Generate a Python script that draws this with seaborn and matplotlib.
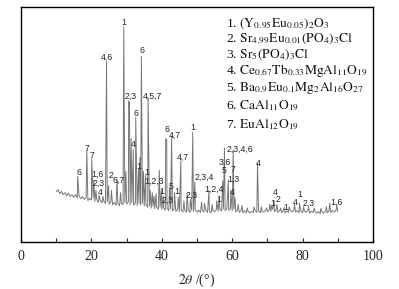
import numpy as np
import pandas as pd
import matplotlib
matplotlib.use('Agg')
import matplotlib.pyplot as plt
import seaborn as sns

# background (noise), every 0.5 deg from 10 to 90
bg_2theta = np.arange(10.0, 90.01, 0.5)
bg_intensity = [
    21.4, 22.3, 20.6, 21.5, 20.2, 21.0, 19.6, 20.8, 19.4, 20.1,
    19.0, 20.2, 18.7, 19.6, 18.4, 19.3, 18.1, 19.0, 17.6, 18.6,
    17.9, 18.8, 17.3, 18.2, 16.9, 17.8, 16.7, 17.5, 16.4, 17.2,
    16.1, 17.0, 15.8, 16.9, 15.6, 16.5, 15.4, 16.6, 15.9, 16.8,
    16.2, 17.1, 15.9, 16.8, 15.7, 16.6, 15.5, 16.4, 15.8, 16.5,
    15.2, 16.0, 14.8, 15.6, 14.4, 15.3, 14.2, 15.0, 13.9, 14.8,
    13.8, 14.7, 13.5, 14.4, 13.3, 14.2, 13.2, 14.1, 13.0, 13.9,
    12.9, 13.8, 12.7, 13.6, 12.8, 13.7, 12.6, 13.5, 12.9, 13.8,
    12.7, 13.6, 12.5, 13.4, 12.8, 13.7, 12.6, 13.3, 12.4, 13.5,
    12.9, 13.8, 13.1, 14.0, 13.2, 14.1, 13.4, 14.3, 13.5, 14.2,
    13.3, 14.0, 12.8, 13.6, 12.6, 13.4, 12.5, 13.3, 12.4, 13.2,
    12.3, 13.1, 12.5, 13.4, 12.6, 13.2, 12.4, 13.1, 12.7, 13.5,
    12.8, 13.7, 13.0, 13.9, 12.9, 13.6, 12.6, 13.4, 12.5, 13.3,
    12.4, 13.2, 12.6, 13.5, 12.8, 13.6, 12.7, 13.4, 12.5, 13.2,
    12.4, 13.3, 12.6, 13.5, 12.3, 13.1, 12.5, 13.2, 12.2, 13.0,
    12.1, 12.9, 12.3, 13.1, 12.4, 13.3, 12.6, 13.4, 12.7, 13.5,
    13.0,
]

# diffraction peaks: position (2theta) and top intensity
peak_2theta = [16.1, 18.7, 20.1, 20.7, 21.3, 22.2, 23.3, 24.3, 24.9, 25.7,
               27.3, 28.3, 29.2, 29.8, 30.6, 30.8, 31.3, 31.9, 32.6, 33.4,
               33.8, 34.2, 34.8, 35.4, 36.1, 36.7, 37.3, 37.8, 38.4, 39.3,
               39.9, 40.4, 41.1, 41.4, 42.2, 42.8, 43.6, 44.7, 45.4, 46.3,
               47.2, 48.1, 48.8, 49.4, 51.3, 52.1, 53.4, 54.3, 55.6, 56.3,
               57.3, 57.8, 58.9, 59.6, 60.3, 60.8, 61.7, 62.8, 64.3, 66.2,
               67.2, 68.3, 69.8, 70.7, 71.2, 71.9, 72.7, 73.8, 74.8, 76.2,
               77.7, 79.1, 80.3, 81.7, 83.3, 85.2, 86.8, 87.7, 89.7]
peak_intensity = [28.0, 39.0, 35.5, 26.0, 22.0, 20.0, 19.5, 76.6, 24.0, 22.0,
                  26.5, 21.0, 91.5, 30.0, 60.0, 59.5, 44.0, 39.5, 53.0, 31.0,
                  36.0, 79.0, 30.0, 28.5, 61.0, 22.0, 21.0, 19.5, 20.5, 30.5,
                  22.0, 19.5, 44.0, 43.5, 23.0, 45.0, 21.0, 19.0, 34.5, 17.5,
                  20.5, 18.0, 46.8, 25.5, 17.0, 16.5, 22.0, 16.0, 17.5, 19.0,
                  26.0, 40.0, 26.5, 22.0, 39.0, 19.0, 16.0, 15.5, 14.5, 15.0,
                  33.5, 15.0, 14.5, 16.0, 15.5, 17.5, 16.0, 14.5, 14.8, 15.0,
                  16.0, 16.5, 15.0, 14.8, 14.5, 14.3, 15.0, 16.5, 15.5]

# phase labels above the peaks: text, 2theta, intensity
label_text = ['1', '4,6', '6', '2,3', '4,5,7', '6', '4', '6', '4,7', '1',
              '4,7', '2,3,4', '2,3', '1,2,4', '1', '2,3,4,6', '3,6', '5', '7', '1,3',
              '4', '4', '4', '1', '2', '1', '4', '1', '2,3', '1,6',
              '6', '7', '7', '1,6', '2,3', '4', '2', '6,7', '1', '1',
              '1,2,3', '1', '2,3', '5', '1']
label_x = [29.3, 24.5, 34.3, 31.1, 37.5, 32.7, 31.9, 41.4, 43.8, 48.7,
           46.1, 52.0, 48.5, 54.8, 56.3, 62.2, 58.0, 57.8, 60.3, 60.3,
           59.9, 67.4, 72.2, 71.4, 73.1, 75.3, 78.0, 79.1, 81.6, 89.7,
           16.5, 18.8, 20.3, 21.7, 22.2, 22.4, 25.6, 27.6, 33.6, 35.7,
           37.8, 39.9, 41.7, 42.7, 44.2]
label_y = [93.5, 78.7, 81.3, 62.1, 62.1, 54.5, 41.3, 47.7, 45.5, 48.6,
           35.9, 27.4, 20.0, 22.6, 17.9, 39.4, 33.7, 30.3, 30.8, 26.8,
           21.0, 33.2, 21.0, 16.5, 18.2, 14.8, 16.9, 20.3, 16.5, 16.9,
           29.5, 39.9, 36.7, 28.8, 25.0, 21.1, 28.2, 26.1, 32.0, 29.5,
           25.7, 21.6, 17.6, 23.6, 21.3]

phases = [
    r'$\mathrm{(Y_{0.95}Eu_{0.05})_2O_3}$',
    r'$\mathrm{Sr_{4.99}Eu_{0.01}(PO_4)_3Cl}$',
    r'$\mathrm{Sr_5(PO_4)_3Cl}$',
    r'$\mathrm{Ce_{0.67}Tb_{0.33}MgAl_{11}O_{19}}$',
    r'$\mathrm{Ba_{0.9}Eu_{0.1}Mg_2Al_{16}O_{27}}$',
    r'$\mathrm{CaAl_{11}O_{19}}$',
    r'$\mathrm{EuAl_{12}O_{19}}$',
]

df = pd.DataFrame({
    'two_theta': np.concatenate([bg_2theta, peak_2theta]),
    'intensity': np.concatenate([bg_intensity, peak_intensity]),
}).sort_values('two_theta')

sns.set_style('ticks')
plt.rcParams['mathtext.fontset'] = 'stix'
plt.rcParams['font.family'] = ['Liberation Serif', 'DejaVu Serif']

fig = plt.figure(figsize=(3.99, 2.89), dpi=100)
ax = fig.add_axes([0.0526, 0.1626, 0.8822, 0.8132])

sns.lineplot(data=df, x='two_theta', y='intensity', sort=False, estimator=None,
             color='#777777', linewidth=0.7, ax=ax)

for t, x, y in zip(label_text, label_x, label_y):
    ax.text(x, y, t, ha='center', va='center', fontsize=6.3,
            family='Liberation Sans', color='#222222')

# legend block of phases
row_y = [0.931, 0.864, 0.796, 0.728, 0.654, 0.579, 0.498]
for i, (name, ry) in enumerate(zip(phases, row_y)):
    ax.text(0.582, ry, f'{i + 1}. ' + name, transform=ax.transAxes,
            ha='left', va='center', fontsize=9.7, color='#111111')

ax.set_xlim(0, 100)
ax.set_ylim(0, 100)
ax.set_xticks([0, 20, 40, 60, 80, 100])
ax.set_xticks([10, 30, 50, 70, 90], minor=True)
ax.set_yticks([])
ax.tick_params(axis='x', which='both', direction='in', length=3, width=0.8,
               labelsize=10, pad=6)
ax.set_xlabel(r'$2\theta$ /(°)', fontsize=10, labelpad=6)
ax.set_ylabel('')
for s in ax.spines.values():
    s.set_visible(True)
    s.set_linewidth(1.0)
    s.set_color('black')

fig.savefig('out.png', dpi=100)
